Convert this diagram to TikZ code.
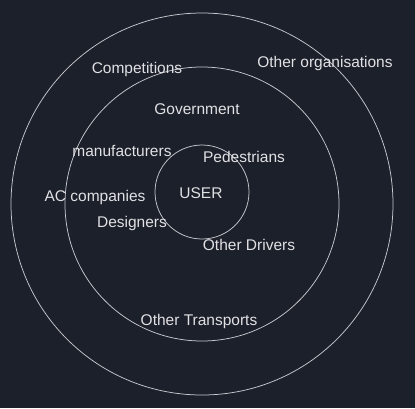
\documentclass[tikz,border=0pt]{standalone}
\usepackage{fontspec}
\setmainfont{Liberation Sans}
\definecolor{bgdark}{RGB}{28,32,43}
\definecolor{ringline}{RGB}{200,200,205}
\definecolor{labeltext}{RGB}{225,225,228}
\tikzset{
    ring/.style={draw=ringline, line width=0.75pt, circle, inner sep=0pt},
    lbl/.style={text=labeltext, inner sep=0pt, font=\fontsize{15.5}{17}\selectfont}
}
\begin{document}
\begin{tikzpicture}[x=1pt, y=-1pt]
    % Background
    \fill[bgdark] (0,0) rectangle (415,408);
    \useasboundingbox (0,0) rectangle (415,408);
    % Rings
    \node[ring, minimum size=382pt] (outer) at (202,204) {};
    \node[ring, minimum size=274pt] (middle) at (202,204) {};
    \node[ring, minimum size=94pt] (inner) at (202,192) {};
    % Centre
    \node[lbl] (user) at (201,193) {USER};
    % Inner ring
    \node[lbl] (ped) at (244,157) {Pedestrians};
    \node[lbl] (drv) at (249,245) {Other Drivers};
    % Middle ring
    \node[lbl] (gov) at (197,109) {Government};
    \node[lbl] (man) at (122,151) {manufacturers};
    \node[lbl] (acc) at (95,197) {AC companies};
    \node[lbl] (des) at (132,223) {Designers};
    \node[lbl] (trn) at (199,321) {Other Transports};
    % Outer ring
    \node[lbl] (comp) at (137,69) {Competitions};
    \node[lbl] (org) at (325,63) {Other organisations};
\end{tikzpicture}
\end{document}
